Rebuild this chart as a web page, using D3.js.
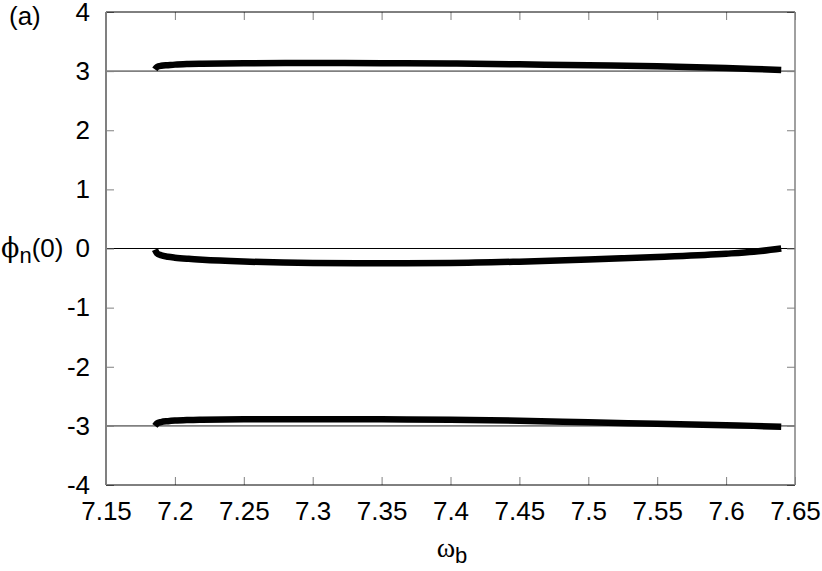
<!DOCTYPE html>
<html>
<head>
<meta charset="utf-8">
<script src="https://cdn.jsdelivr.net/npm/d3@7"></script>
<style>
  body { margin: 0; background: #fff; }
  svg { display: block; font-family: "Liberation Sans", Arial, sans-serif; }
</style>
</head>
<body>
<div id="chart"></div>
<script>
// omega_b samples along each branch
const omega = [7.1855, 7.187, 7.19, 7.195, 7.2, 7.21, 7.22, 7.25, 7.3, 7.35, 7.4, 7.45, 7.5, 7.55, 7.6, 7.62, 7.64];
const upper = [3.03, 3.07, 3.09, 3.1, 3.11, 3.12, 3.125, 3.133, 3.137, 3.135, 3.128, 3.115, 3.1, 3.082, 3.052, 3.037, 3.02];
const middle = [-0.02, -0.08, -0.115, -0.14, -0.155, -0.175, -0.19, -0.22, -0.245, -0.25, -0.245, -0.222, -0.188, -0.142, -0.088, -0.055, -0.0];
const lower = [-3.0, -2.96, -2.935, -2.92, -2.91, -2.9, -2.895, -2.888, -2.886, -2.89, -2.898, -2.912, -2.94, -2.965, -2.99, -3.0, -3.015];
const refLines = [3, 0, -3];

const xTicks = [7.15, 7.2, 7.25, 7.3, 7.35, 7.4, 7.45, 7.5, 7.55, 7.6, 7.65];
const yTicks = [-4, -3, -2, -1, 0, 1, 2, 3, 4];

const W = 822, H = 571;
const m = { top: 12, right: 27, bottom: 86, left: 106 };
const gray = "#808080";

const svg = d3.select("#chart").append("svg")
  .attr("width", W).attr("height", H);

const x = d3.scaleLinear().domain([7.15, 7.65]).range([m.left, W - m.right]);
const y = d3.scaleLinear().domain([-4, 4]).range([H - m.bottom, m.top]);

// reference lines at 0 and +/-3
svg.selectAll("line.ref")
  .data(refLines)
  .enter().append("line")
  .attr("class", "ref")
  .attr("x1", x(7.15)).attr("x2", x(7.65))
  .attr("y1", d => y(d)).attr("y2", d => y(d))
  .attr("stroke", d => d === 0 ? "#000" : gray)
  .attr("stroke-width", d => d === 0 ? 1 : 1.6);

// axes, ticks pointing inward
function styleAxis(g, showText) {
  g.select(".domain").remove();
  g.selectAll(".tick line").attr("stroke", gray).attr("stroke-width", 1);
  g.selectAll(".tick text")
    .attr("fill", "#000")
    .style("font-size", "26px")
    .style("font-family", "'Liberation Sans', Arial, sans-serif");
  if (!showText) g.selectAll(".tick text").remove();
}

const plain = d => String(d);

svg.append("g")
  .attr("transform", `translate(0,${H - m.bottom})`)
  .call(d3.axisBottom(x).tickValues(xTicks).tickSize(-8).tickPadding(17).tickFormat(plain))
  .call(g => styleAxis(g, true));

svg.append("g")
  .attr("transform", `translate(0,${m.top})`)
  .call(d3.axisTop(x).tickValues(xTicks).tickSize(-8))
  .call(g => styleAxis(g, false));

svg.append("g")
  .attr("transform", `translate(${m.left},0)`)
  .call(d3.axisLeft(y).tickValues(yTicks).tickSize(-8).tickPadding(16).tickFormat(plain))
  .call(g => styleAxis(g, true));

svg.append("g")
  .attr("transform", `translate(${W - m.right},0)`)
  .call(d3.axisRight(y).tickValues(yTicks).tickSize(-8))
  .call(g => styleAxis(g, false));

// frame
svg.append("line").attr("x1", m.left).attr("x2", W - m.right).attr("y1", m.top).attr("y2", m.top)
  .attr("stroke", "#000").attr("stroke-width", 1);
svg.append("line").attr("x1", m.left).attr("x2", W - m.right).attr("y1", H - m.bottom).attr("y2", H - m.bottom)
  .attr("stroke", "#000").attr("stroke-width", 1);
svg.append("line").attr("x1", m.left).attr("x2", m.left).attr("y1", m.top).attr("y2", H - m.bottom)
  .attr("stroke", gray).attr("stroke-width", 2);
svg.append("line").attr("x1", W - m.right).attr("x2", W - m.right).attr("y1", m.top).attr("y2", H - m.bottom)
  .attr("stroke", gray).attr("stroke-width", 1.5);

// branches
const line = d3.line().x(d => x(d[0])).y(d => y(d[1])).curve(d3.curveMonotoneX);
[upper, middle, lower].forEach(vals => {
  svg.append("path")
    .datum(omega.map((w, i) => [w, vals[i]]))
    .attr("d", line)
    .attr("fill", "none")
    .attr("stroke", "#000")
    .attr("stroke-width", 6.5);
});

// labels
svg.append("text").attr("x", 9).attr("y", 25)
  .style("font-size", "26px").text("(a)");

const yl = svg.append("text").attr("x", 1).attr("y", 257).style("font-size", "26px");
yl.append("tspan").style("font-family", "'DejaVu Serif', serif").style("font-size", "27px").text("ϕ");
yl.append("tspan").attr("dy", 6).style("font-size", "22px").text("n");
yl.append("tspan").attr("dy", -6).text("(0)");

const xl = svg.append("text").attr("x", 452).attr("y", 557)
  .attr("text-anchor", "middle").style("font-size", "26px");
xl.append("tspan").style("font-family", "'Liberation Serif', serif").style("font-size", "28px").text("ω");
xl.append("tspan").attr("dy", 6).style("font-size", "22px").text("b");
</script>
</body>
</html>
